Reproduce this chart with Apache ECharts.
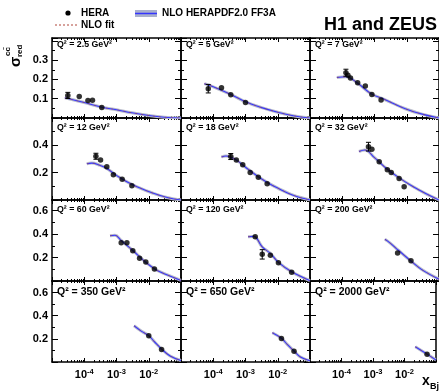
<!DOCTYPE html>
<html>
<head>
<meta charset="utf-8">
<script src="https://cdn.jsdelivr.net/npm/echarts@6/dist/echarts.min.js"></script>
<style>
  html, body { margin: 0; padding: 0; background: #fff; }
  #chart { width: 439px; height: 392px; }
</style>
</head>
<body>
<div id="chart"></div>
<script>
// Q2 of each panel, left to right, top to bottom
const q2Values = ['2.5', '5', '7', '12', '18', '32', '60', '120', '200', '350', '650', '2000'];

// HERA combined charm data: x, reduced cross section, error
const heraX = [
  [3.1e-5, 7e-5, 1.3e-4, 1.8e-4, 3.5e-4],
  [7e-5, 1.8e-4, 3.5e-4, 1e-3],
  [1.3e-4, 1.5e-4, 1.8e-4, 3e-4, 5.2e-4, 8.3e-4, 1.6e-3],
  [2.3e-4, 3.2e-4, 5e-4, 8e-4, 1.5e-3, 3e-3],
  [3.5e-4, 5.2e-4, 8.2e-4, 1.4e-3, 2.5e-3, 4.7e-3],
  [6.5e-4, 8.3e-4, 1.4e-3, 2.5e-3, 3.3e-3, 5.8e-3, 8.3e-3],
  [1.4e-3, 2.1e-3, 3.2e-3, 5.2e-3, 8.1e-3, 1.5e-2],
  [2e-3, 3.3e-3, 5.9e-3, 1.05e-2, 2.7e-2],
  [5.2e-3, 1.35e-2],
  [1e-2, 2.5e-2],
  [1.3e-2, 3.2e-2],
  [5.2e-2]
];
const heraY = [
  [0.117, 0.112, 0.091, 0.092, 0.055],
  [0.152, 0.157, 0.12, 0.08],
  [0.235, 0.222, 0.207, 0.183, 0.166, 0.122, 0.093],
  [0.32, 0.292, 0.243, 0.185, 0.151, 0.104],
  [0.318, 0.292, 0.258, 0.202, 0.166, 0.119],
  [0.39, 0.372, 0.28, 0.221, 0.202, 0.158, 0.097],
  [0.326, 0.326, 0.258, 0.193, 0.162, 0.102],
  [0.378, 0.227, 0.219, 0.156, 0.074],
  [0.238, 0.173],
  [0.227, 0.109],
  [0.204, 0.092],
  [0.066]
];
const heraErr = [
  [0.016, 0, 0, 0, 0],
  [0.022, 0, 0, 0],
  [0.018, 0, 0, 0, 0, 0, 0],
  [0.022, 0, 0, 0, 0, 0],
  [0.022, 0, 0, 0, 0, 0],
  [0.032, 0, 0, 0, 0, 0, 0],
  [0, 0, 0, 0, 0, 0],
  [0, 0.04, 0, 0, 0],
  [0, 0],
  [0, 0],
  [0, 0],
  [0]
];

// NLO HERAPDF2.0 FF3A prediction (the NLO fit lies on top of it)
const nloX = [
  [2.5e-5, 1e-4, 3.5e-4, 1e-3, 3e-3, 1e-2, 3e-2, 0.1],
  [5.3e-5, 1e-4, 3.5e-4, 1e-3, 3e-3, 1e-2, 3e-2, 0.1],
  [6.8e-5, 1.3e-4, 3e-4, 8e-4, 2e-3, 9e-3, 3e-2, 0.1],
  [1.2e-4, 1.7e-4, 3e-4, 5e-4, 1e-3, 3.3e-3, 1.4e-2, 4e-2, 0.1],
  [1.8e-4, 2.5e-4, 5e-4, 1e-3, 2.5e-3, 5e-3, 1e-2, 3e-2, 0.1],
  [3.3e-4, 5e-4, 1e-3, 2.5e-3, 6e-3, 1.5e-2, 4e-2, 0.1],
  [6.3e-4, 9e-4, 1.4e-3, 3.2e-3, 8e-3, 1.5e-2, 2.2e-2, 0.1],
  [1.2e-3, 1.8e-3, 3.3e-3, 5.9e-3, 1.05e-2, 2.7e-2, 0.1],
  [2.1e-3, 3e-3, 5.5e-3, 1.35e-2, 3e-2, 0.1],
  [3.5e-3, 6e-3, 1e-2, 1.5e-2, 2.5e-2, 4.6e-2, 0.1],
  [6.8e-3, 1.3e-2, 2e-2, 3.2e-2, 4.9e-2, 0.1],
  [2.2e-2, 5.2e-2, 0.1]
];
const nloY = [
  [0.105, 0.08, 0.056, 0.043, 0.027, 0.013, 0.004, 0],
  [0.178, 0.162, 0.122, 0.084, 0.055, 0.03, 0.012, 0],
  [0.21, 0.214, 0.18, 0.125, 0.097, 0.048, 0.02, 0],
  [0.265, 0.27, 0.255, 0.231, 0.18, 0.109, 0.049, 0.016, 0],
  [0.315, 0.322, 0.295, 0.24, 0.17, 0.125, 0.087, 0.035, 0],
  [0.355, 0.366, 0.31, 0.225, 0.16, 0.1, 0.045, 0],
  [0.386, 0.39, 0.345, 0.26, 0.16, 0.105, 0.079, 0.005],
  [0.377, 0.38, 0.29, 0.235, 0.158, 0.078, 0.003],
  [0.355, 0.325, 0.262, 0.17, 0.095, 0.015],
  [0.313, 0.265, 0.228, 0.175, 0.112, 0.052, 0.013],
  [0.253, 0.205, 0.15, 0.095, 0.046, 0.01],
  [0.132, 0.068, 0.017]
];

// y axis per row
const yMax = [0.415, 0.6, 0.69, 0.7];
const yStep = [0.1, 0.2, 0.2, 0.2];
const yLabels = [[0.1, 0.2, 0.3], [0.2, 0.4], [0.2, 0.4, 0.6], [0.2, 0.4, 0.6]];
const xLabelPowers = [-4, -3, -2];

const colLeft = [52, 181, 310];
const colWidth = 129;
const rowTop = [38, 118, 200, 281];
const rowHeight = [80, 82, 81, 81];
const titleY = [45, 128, 210, 292];

const font = '"Liberation Sans", Arial, Helvetica, sans-serif';
const chart = echarts.init(document.getElementById('chart'), null, { renderer: 'canvas' });

const grid = [], xAxis = [], yAxis = [], series = [], graphic = [];

q2Values.forEach((q2, i) => {
  const r = Math.floor(i / 3), c = i % 3;
  grid.push({ left: colLeft[c], top: rowTop[r], width: colWidth, height: rowHeight[r] });

  const xBase = {
    gridIndex: i, type: 'log', logBase: 10, min: 1e-5, max: 0.1,
    axisLine: { show: true, onZero: false, lineStyle: { color: '#000', width: 1.5 } },
    axisTick: { show: true, inside: true, length: 4, lineStyle: { color: '#000' } },
    minorTick: { show: true, splitNumber: 9, length: 2, lineStyle: { color: '#000' } },
    splitLine: { show: false }
  };
  xAxis.push(Object.assign({}, xBase, {
    position: 'bottom',
    axisLabel: {
      show: r === 3, margin: 6, fontFamily: font,
      formatter: v => {
        const p = Math.round(Math.log10(v));
        return xLabelPowers.includes(p) ? '{b|10}{s|' + p + '}' : '';
      },
      rich: {
        b: { fontSize: 11, fontWeight: 'bold', fontFamily: font, color: '#000' },
        s: { fontSize: 7.5, fontWeight: 'bold', fontFamily: font, color: '#000', verticalAlign: 'top', padding: [0, 0, 6, 0] }
      }
    }
  }));
  xAxis.push(Object.assign({}, xBase, { position: 'top', axisLabel: { show: false } }));

  const yBase = {
    gridIndex: i, type: 'value', min: 0, max: yMax[r], interval: yStep[r],
    axisLine: { show: true, onZero: false, lineStyle: { color: '#000', width: 1.5 } },
    axisTick: { show: true, inside: true, length: 6, lineStyle: { color: '#000' } },
    minorTick: { show: true, splitNumber: 2, length: 3, lineStyle: { color: '#000' } },
    splitLine: { show: false }
  };
  yAxis.push(Object.assign({}, yBase, {
    position: 'left',
    axisLabel: {
      show: c === 0, margin: 4, fontSize: 11, fontWeight: 'bold', fontFamily: font, color: '#000',
      showMaxLabel: true,
      formatter: v => yLabels[r].some(l => Math.abs(l - v) < 1e-6) ? v.toFixed(1) : ''
    }
  }));
  yAxis.push(Object.assign({}, yBase, { position: 'right', axisLabel: { show: false } }));

  const xi = 2 * i, yi = 2 * i;
  const curve = nloX[i].map((x, k) => [x, nloY[i][k]]);
  const points = heraX[i].map((x, k) => [x, heraY[i][k]]);
  const bars = heraX[i].map((x, k) => [x, heraY[i][k] - heraErr[i][k], heraY[i][k] + heraErr[i][k]]);

  series.push({
    type: 'line', xAxisIndex: xi, yAxisIndex: yi, data: curve, smooth: 0.4, symbol: 'none',
    lineStyle: { color: '#b9bccb', width: 3 }, z: 1, silent: true
  });
  series.push({
    type: 'line', name: 'NLO HERAPDF2.0 FF3A', xAxisIndex: xi, yAxisIndex: yi, data: curve, smooth: 0.4, symbol: 'none',
    lineStyle: { color: '#3535ff', width: 1.1 }, z: 2
  });
  series.push({
    type: 'line', name: 'NLO fit', xAxisIndex: xi, yAxisIndex: yi, data: curve, smooth: 0.4, symbol: 'none',
    lineStyle: { color: '#b0473a', width: 1, type: [2, 4], opacity: 0.55 }, z: 3
  });
  series.push({
    type: 'custom', xAxisIndex: xi, yAxisIndex: yi, data: bars, z: 4,
    renderItem: (params, api) => {
      const top = api.coord([api.value(0), api.value(2)]);
      const bot = api.coord([api.value(0), api.value(1)]);
      if (Math.abs(top[1] - bot[1]) < 1) return null;
      const st = { stroke: '#000', lineWidth: 1 };
      return {
        type: 'group', children: [
          { type: 'line', shape: { x1: top[0], y1: top[1], x2: bot[0], y2: bot[1] }, style: st },
          { type: 'line', shape: { x1: top[0] - 2.5, y1: top[1], x2: top[0] + 2.5, y2: top[1] }, style: st },
          { type: 'line', shape: { x1: bot[0] - 2.5, y1: bot[1], x2: bot[0] + 2.5, y2: bot[1] }, style: st }
        ]
      };
    }
  });
  series.push({
    type: 'scatter', name: 'HERA', xAxisIndex: xi, yAxisIndex: yi, data: points,
    symbol: 'circle', symbolSize: 5.5, itemStyle: { color: '#000' }, z: 5
  });

  graphic.push({
    type: 'text', x: colLeft[c] + 5, y: titleY[r],
    style: {
      text: 'Q² = ' + q2 + ' GeV²', fill: '#000', fontWeight: 'bold', verticalAlign: 'middle',
      fontSize: r === 3 ? 10.5 : 8.8, fontFamily: font
    }
  });
});

// legend, header and axis titles
graphic.push(
  { type: 'circle', shape: { cx: 68, cy: 13, r: 2.6 }, style: { fill: '#000' } },
  { type: 'text', x: 81, y: 13, style: { text: 'HERA', fontSize: 10, fontWeight: 'bold', fontFamily: font, fill: '#000', verticalAlign: 'middle' } },
  { type: 'rect', shape: { x: 135, y: 10, width: 22, height: 7 }, style: { fill: '#a9b0cc' } },
  { type: 'line', shape: { x1: 135, y1: 13.5, x2: 157, y2: 13.5 }, style: { stroke: '#3535ff', lineWidth: 1.5 } },
  { type: 'text', x: 162, y: 13, style: { text: 'NLO HERAPDF2.0 FF3A', fontSize: 10, fontWeight: 'bold', fontFamily: font, fill: '#000', verticalAlign: 'middle' } },
  { type: 'line', shape: { x1: 55, y1: 25, x2: 77, y2: 25 }, style: { stroke: '#b0473a', lineWidth: 1, lineDash: [2, 2] } },
  { type: 'text', x: 81, y: 25, style: { text: 'NLO fit', fontSize: 10, fontWeight: 'bold', fontFamily: font, fill: '#000', verticalAlign: 'middle' } },
  { type: 'text', x: 324, y: 25, style: { text: 'H1 and ZEUS', fontSize: 18, fontWeight: 'bold', fontFamily: font, fill: '#000', verticalAlign: 'middle' } },
  { type: 'text', x: 16, y: 67, rotation: Math.PI / 2, style: { text: 'σ', fontSize: 15, fontWeight: 'bold', fontFamily: font, fill: '#000', align: 'left', verticalAlign: 'middle' } },
  { type: 'text', x: 20, y: 57, rotation: Math.PI / 2, style: { text: 'red', fontSize: 8, fontWeight: 'bold', fontFamily: font, fill: '#000', align: 'left', verticalAlign: 'middle' } },
  { type: 'text', x: 8, y: 56, rotation: Math.PI / 2, style: { text: 'cc̄', fontSize: 8, fontWeight: 'bold', fontFamily: font, fill: '#000', align: 'left', verticalAlign: 'middle' } },
  { type: 'text', x: 422, y: 381, style: { text: 'x', fontSize: 14, fontWeight: 'bold', fontFamily: font, fill: '#000', verticalAlign: 'middle' } },
  { type: 'text', x: 430, y: 387, style: { text: 'Bj', fontSize: 9, fontWeight: 'bold', fontFamily: font, fill: '#000', verticalAlign: 'middle' } }
);

chart.setOption({
  animation: false,
  backgroundColor: '#fff',
  grid, xAxis, yAxis, series, graphic
});
</script>
</body>
</html>
